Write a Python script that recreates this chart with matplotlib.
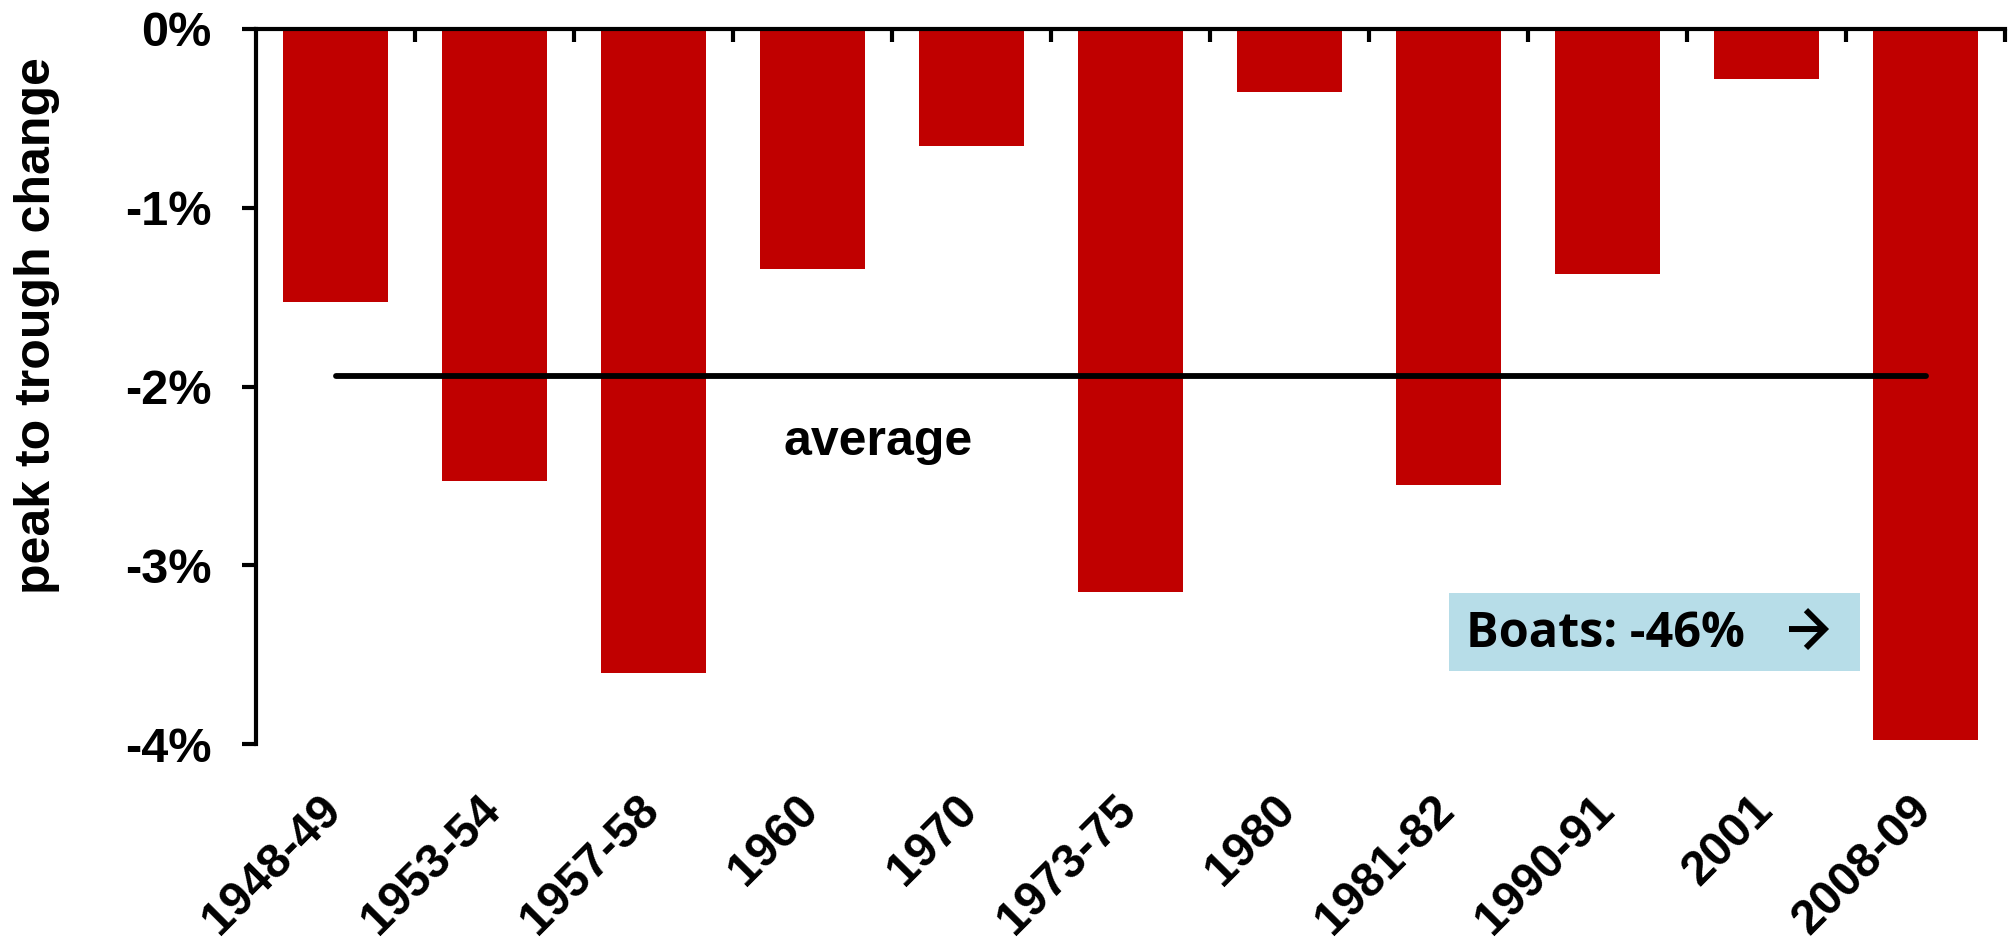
import matplotlib
matplotlib.use("Agg")
import matplotlib.pyplot as plt
from matplotlib.patches import Rectangle
import numpy as np

categories = ["1948-49", "1953-54", "1957-58", "1960", "1970", "1973-75",
              "1980", "1981-82", "1990-91", "2001", "2008-09"]
values = [-1.53, -2.53, -3.60, -1.34, -0.655, -3.15, -0.35, -2.55, -1.37, -0.28, -3.98]
average = -1.94
yticks = [0, -1, -2, -3, -4]
ytick_labels = ["0%", "-1%", "-2%", "-3%", "-4%"]

BAR = "#c00000"
main_font = ["Liberation Sans", "DejaVu Sans"]

fig = plt.figure(figsize=(20.09, 9.44), dpi=100)
ax = fig.add_axes([256/2009, 1-744/944, 1749/2009, 715/944])

x = np.arange(len(categories))
ax.bar(x, values, width=0.66, color=BAR, zorder=2)
ax.plot([x[0], x[-1]], [average, average], color="black", lw=4.2,
        solid_capstyle="round", zorder=3)

ax.set_xlim(-0.5, len(categories) - 0.5)
ax.set_ylim(-4, 0)

for s in ["right", "bottom"]:
    ax.spines[s].set_visible(False)
for s in ["top", "left"]:
    ax.spines[s].set_linewidth(3)
    ax.spines[s].set_capstyle("projecting")

ax.set_yticks(yticks)
ax.set_yticklabels(ytick_labels, fontfamily=main_font, fontweight="bold", fontsize=35)
ax.tick_params(axis="y", direction="out", length=10, width=3, pad=22)

# category boundary ticks on the top axis
ax.set_xticks(np.arange(len(categories)) + 0.5, minor=True)
ax.tick_params(axis="x", which="minor", top=True, bottom=False, direction="in",
               length=9, width=3)
ax.set_xticks(x)
ax.set_xticklabels([])
ax.tick_params(axis="x", which="major", top=False, bottom=False, length=0)

for xi, lab in zip(x, categories):
    ax.annotate(lab, xy=(xi, 0), xycoords=("data", "axes fraction"),
                xytext=(8, -68), textcoords="offset pixels",
                rotation=45, rotation_mode="anchor", ha="right", va="baseline",
                fontfamily=main_font, fontweight="bold", fontsize=34.5)

ax.text(3.41, -2.383, "average", ha="center", va="baseline",
        fontfamily=main_font, fontweight="bold", fontsize=36)

ax.add_patch(Rectangle((0.6821, 0.1021), 0.235, 0.1091, transform=ax.transAxes,
                       facecolor="#b7dde8", edgecolor="none", zorder=4))
ax.text(0.6916, 0.1357, "Boats: -46%", transform=ax.transAxes,
        ha="left", va="baseline", fontfamily=["Open Sans", "DejaVu Sans"],
        fontweight="bold", fontsize=35, zorder=5)
ax.annotate("", xy=(0.8994, 0.1608), xytext=(0.8765, 0.1608),
            xycoords="axes fraction", textcoords="axes fraction",
            arrowprops=dict(arrowstyle="->,head_length=0.68,head_width=0.68",
                            lw=4.3, color="black", mutation_scale=20,
                            shrinkA=0, shrinkB=0, joinstyle="miter",
                            capstyle="butt"),
            zorder=5)

fig.text(50/2009, 1-325.5/944, "peak to trough change", rotation=90,
         rotation_mode="anchor", ha="center", va="baseline",
         fontfamily=main_font, fontweight="bold", fontsize=36)

fig.savefig("out.png", dpi=100)
